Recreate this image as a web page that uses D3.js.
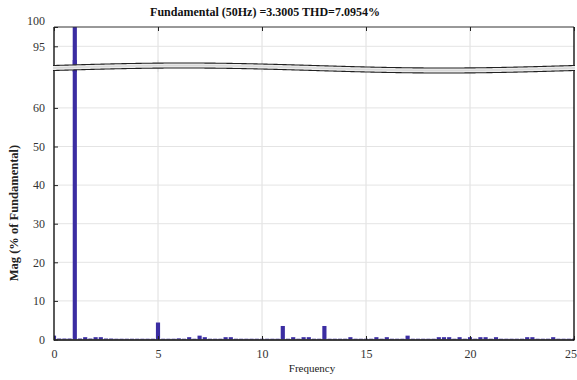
<!DOCTYPE html>
<html>
<head>
<meta charset="utf-8">
<script src="https://cdn.jsdelivr.net/npm/d3@7"></script>
<style>
  body { margin: 0; background: #fff; }
  svg { display: block; font-family: "Liberation Serif", "Times New Roman", serif; }
  svg text { font-family: "Liberation Serif", "Times New Roman", serif; }
</style>
</head>
<body>
<div id="chart"></div>
<script>
// FFT bins (harmonic order) and magnitude in % of fundamental
const freq = [
  0, 0.25, 0.5, 0.75, 1, 1.25, 1.5, 1.75, 2, 2.25, 2.5, 2.75,
  3, 3.25, 3.5, 3.75, 4, 4.25, 4.5, 4.75, 5, 5.25, 5.5, 5.75,
  6, 6.25, 6.5, 6.75, 7, 7.25, 7.5, 7.75, 8, 8.25, 8.5, 8.75,
  9, 9.25, 9.5, 9.75, 10, 10.25, 10.5, 10.75, 11, 11.25, 11.5, 11.75,
  12, 12.25, 12.5, 12.75, 13, 13.25, 13.5, 13.75, 14, 14.25, 14.5, 14.75,
  15, 15.25, 15.5, 15.75, 16, 16.25, 16.5, 16.75, 17, 17.25, 17.5, 17.75,
  18, 18.25, 18.5, 18.75, 19, 19.25, 19.5, 19.75, 20, 20.25, 20.5, 20.75,
  21, 21.25, 21.5, 21.75, 22, 22.25, 22.5, 22.75, 23, 23.25, 23.5, 23.75,
  24, 24.25, 24.5, 24.75, 25
];
const mag = [
  1.0, 0.25, 0.25, 0.25, 100, 0.25, 0.6, 0.25, 0.6, 0.6, 0.25, 0.25,
  0.2, 0.2, 0.2, 0.2, 0.2, 0.2, 0.2, 0.2, 4.4, 0.2, 0.2, 0.2,
  0.3, 0.2, 0.6, 0.2, 1.0, 0.6, 0.2, 0.2, 0.2, 0.6, 0.6, 0.2,
  0.2, 0.2, 0.2, 0.2, 0.2, 0.2, 0.2, 0.2, 3.5, 0.2, 0.6, 0.2,
  0.6, 0.6, 0.2, 0.2, 3.5, 0.2, 0.2, 0.2, 0.2, 0.6, 0.2, 0.2,
  0.2, 0.2, 0.6, 0.2, 0.6, 0.2, 0.2, 0.2, 1.0, 0.2, 0.2, 0.2,
  0.2, 0.2, 0.6, 0.6, 0.6, 0.2, 0.6, 0.2, 0.6, 0.2, 0.6, 0.6,
  0.2, 0.6, 0.2, 0.2, 0.2, 0.2, 0.2, 0.6, 0.6, 0.2, 0.2, 0.2,
  0.6, 0.2, 0.2, 0.2, 0.2
];
const xTicks = [0, 5, 10, 15, 20, 25];
const yTicksLow = [0, 10, 20, 30, 40, 50, 60];
const yTicksUp = [95, 100];
const titleText = "Fundamental (50Hz) =3.3005 THD=7.0954%";

const W = 577, H = 380;
const L = 54, R = 574, B = 339.5, T = 27;
const barColor = "#3b2da2";
const serif = "Liberation Serif, Times New Roman, serif";

const data = freq.map((f, i) => ({ f, v: mag[i] }));

const x = d3.scaleLinear().domain([0, 25]).range([L, R]);
const yLow = d3.scaleLinear().domain([0, 60]).range([B, 107.9]);
const yUp = d3.scaleLinear().domain([95, 100]).range([46.3, T]);
const bw = x(0.2) - x(0);

const svg = d3.select("#chart").append("svg")
  .attr("width", W).attr("height", H);

const defs = svg.append("defs");
defs.append("clipPath").attr("id", "clipUp")
  .append("rect").attr("x", L).attr("y", T).attr("width", R - L).attr("height", 45);
defs.append("clipPath").attr("id", "clipLow")
  .append("rect").attr("x", L).attr("y", 60).attr("width", R - L).attr("height", B - 60);

function panel(id, y, top, bottom, ticks) {
  const g = svg.append("g").attr("clip-path", `url(#${id})`);
  // grid
  g.selectAll(".vg").data(xTicks.slice(1, -1)).enter().append("line")
    .attr("x1", d => x(d)).attr("x2", d => x(d))
    .attr("y1", top).attr("y2", bottom)
    .attr("stroke", "#dedede").attr("stroke-width", 1);
  g.selectAll(".hg").data(ticks.filter(d => y(d) > T + 1 && y(d) < B - 1)).enter().append("line")
    .attr("x1", L).attr("x2", R)
    .attr("y1", d => y(d)).attr("y2", d => y(d))
    .attr("stroke", "#e4e4e4").attr("stroke-width", 1);
  // bars
  g.selectAll("rect.bar").data(data).enter().append("rect")
    .attr("class", "bar")
    .attr("x", d => x(d.f) - bw / 2)
    .attr("width", bw)
    .attr("y", d => y(d.v))
    .attr("height", d => Math.max(0, y.range()[0] - y(d.v) + (y === yUp ? 200 : 0)))
    .attr("fill", barColor);
  return g;
}

panel("clipUp", yUp, T, 75, yTicksUp);
panel("clipLow", yLow, 60, B, yTicksLow);

// frame
const frame = svg.append("g").attr("stroke", "#000").attr("fill", "none");
frame.append("line").attr("x1", L).attr("x2", R).attr("y1", T).attr("y2", T).attr("stroke", "#333");
frame.append("line").attr("x1", L).attr("x2", R).attr("y1", B + 0.5).attr("y2", B + 0.5).attr("stroke-width", 1.3);
frame.append("line").attr("x1", L).attr("x2", L).attr("y1", T).attr("y2", B + 1).attr("stroke-width", 1.3);
frame.append("line").attr("x1", R).attr("x2", R).attr("y1", T).attr("y2", B + 1).attr("stroke-width", 1.3);

// axes (inward ticks)
const fmt = d3.format("d");
const axB = svg.append("g").attr("transform", `translate(0,${B + 0.5})`)
  .call(d3.axisBottom(x).tickValues(xTicks).tickSize(-4).tickPadding(9).tickFormat(fmt));
const axT = svg.append("g").attr("transform", `translate(0,${T})`)
  .call(d3.axisTop(x).tickValues(xTicks).tickSize(-4).tickFormat(""));
const axL = svg.append("g").attr("transform", `translate(${L},0)`)
  .call(d3.axisLeft(yLow).tickValues(yTicksLow).tickSize(-4).tickPadding(9).tickFormat(fmt));
const axLU = svg.append("g").attr("transform", `translate(${L},0)`)
  .call(d3.axisLeft(yUp).tickValues(yTicksUp).tickSize(-4).tickPadding(9).tickFormat(fmt));
[axB, axT, axL, axLU].forEach(a => {
  a.attr("font-family", serif).attr("font-size", 12);
  a.select(".domain").remove();
  a.selectAll(".tick line").attr("stroke", "#222");
  a.selectAll(".tick text").style("font-family", serif).attr("fill", "#333");
});
axLU.selectAll(".tick text").filter(d => d === 100).attr("dy", "-0.25em");
// last x label sits at the right edge, nudge it in so it stays visible
axB.selectAll(".tick text").filter(d => d === 25).attr("dx", "-0.3em");

// axis break band
const wave = d3.range(L - 1, R + 2, 2);
const yTop = px => 65.5 - 2.5 * Math.sin(2 * Math.PI * (px - L) / (R - L));
const band = svg.append("g");
band.append("path")
  .attr("d", d3.area().x(p => p).y0(p => yTop(p)).y1(p => yTop(p) + 5).curve(d3.curveBasis)(wave))
  .attr("fill", "#ececec");
band.append("path")
  .attr("d", d3.area().x(p => p).y0(p => yTop(p) + 1.8).y1(p => yTop(p) + 3.2).curve(d3.curveBasis)(wave))
  .attr("fill", "#d8d8d8");
[0, 5].forEach(off => {
  band.append("path")
    .attr("d", d3.line().x(p => p).y(p => yTop(p) + off).curve(d3.curveBasis)(wave))
    .attr("fill", "none").attr("stroke", "#222").attr("stroke-width", 1.1);
});

// labels
svg.append("text").attr("x", 265).attr("y", 16)
  .attr("text-anchor", "middle").attr("font-size", 12).attr("font-weight", "bold")
  .style("font-family", serif).attr("fill", "#111").text(titleText);
svg.append("text").attr("x", 312).attr("y", 372)
  .attr("text-anchor", "middle").attr("font-size", 11).style("font-family", serif)
  .attr("fill", "#222").text("Frequency");
svg.append("text").attr("transform", "translate(18,213) rotate(-90)")
  .attr("text-anchor", "middle").attr("font-size", 12.5).attr("font-weight", "bold")
  .style("font-family", serif).attr("fill", "#222").text("Mag (% of Fundamental)");
</script>
</body>
</html>
